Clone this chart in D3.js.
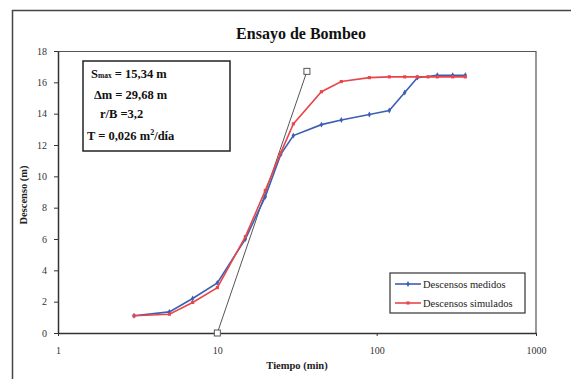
<!DOCTYPE html>
<html>
<head>
<meta charset="utf-8">
<script src="https://cdnjs.cloudflare.com/ajax/libs/d3/7.8.5/d3.min.js"></script>
<style>
  body { margin: 0; background: #fff; }
  text { font-family: "Liberation Serif", "DejaVu Serif", serif; }
</style>
</head>
<body>
<div id="chart"></div>
<script>
  // data
  var timeMedidos = [3, 5, 7, 10, 15, 20, 25, 30, 45, 60, 90, 120, 150, 180, 240, 300, 360];
  var descMedidos = [1.1, 1.35, 2.2, 3.2, 6.0, 8.7, 11.4, 12.6, 13.3, 13.6, 13.95, 14.2, 15.35, 16.3, 16.45, 16.45, 16.45];

  var timeSimulados = [3, 5, 7, 10, 15, 20, 25, 30, 45, 60, 90, 120, 150, 180, 210, 240, 300, 360];
  var descSimulados = [1.1, 1.2, 1.95, 2.9, 6.15, 9.1, 11.5, 13.35, 15.4, 16.05, 16.3, 16.35, 16.35, 16.35, 16.35, 16.35, 16.35, 16.35];

  // straight line of the Jacob fit
  var timeRecta = [10, 36.5];
  var descRecta = [0, 16.7];

  var xTicks = [1, 10, 100, 1000];
  var yTicks = [0, 2, 4, 6, 8, 10, 12, 14, 16, 18];
  var seriesNames = ["Descensos medidos", "Descensos simulados"];
  var seriesColors = ["#3b5fb5", "#e8464b"];

  var svgWidth = 571;
  var svgHeight = 379;

  var margin = { top: 51, bottom: 46, right: 35, left: 58 };
  var width = svgWidth - margin.left - margin.right;
  var height = svgHeight - margin.top - margin.bottom;

  var svg = d3.select("#chart")
    .append("svg")
    .attr("width", svgWidth)
    .attr("height", svgHeight);

  // outer chart frame
  svg.append("rect")
    .attr("x", 12.5).attr("y", 10.5)
    .attr("width", 570).attr("height", 380)
    .attr("fill", "none")
    .attr("stroke", "#444")
    .attr("stroke-width", 1.5);

  svg.append("text")
    .attr("x", 301).attr("y", 39)
    .attr("text-anchor", "middle")
    .attr("font-size", "16px")
    .attr("font-weight", "bold")
    .attr("fill", "#111")
    .text("Ensayo de Bombeo");

  var chartGroup = svg.append("g")
    .attr("transform", `translate(${margin.left}, ${margin.top})`);

  var xLogScale = d3.scaleLog().domain([1, 1000]).range([0, width]);
  var yLinearScale = d3.scaleLinear().domain([0, 18]).range([height, 0]);

  // plot area border (top and right)
  chartGroup.append("path")
    .attr("d", `M0,0.5H${width}V${height}`)
    .attr("fill", "none")
    .attr("stroke", "#555")
    .attr("stroke-width", 1.2);

  var xAxis = d3.axisBottom(xLogScale)
    .tickValues(xTicks)
    .tickFormat(d3.format("d"))
    .tickSizeInner(3)
    .tickSizeOuter(0)
    .tickPadding(11);

  var yAxis = d3.axisLeft(yLinearScale)
    .tickValues(yTicks)
    .tickSizeInner(4)
    .tickSizeOuter(0)
    .tickPadding(7);

  var gx = chartGroup.append("g")
    .attr("transform", `translate(0, ${height})`)
    .call(xAxis);

  var gy = chartGroup.append("g")
    .call(yAxis);

  [gx, gy].forEach(function(g) {
    g.select(".domain").attr("stroke", "#333").attr("stroke-width", 1.5);
    g.selectAll(".tick line").attr("stroke", "#333");
    g.selectAll(".tick text")
      .attr("font-family", "Liberation Serif, serif")
      .attr("font-size", "10px")
      .attr("fill", "#333");
  });

  chartGroup.append("text")
    .attr("transform", "rotate(-90)")
    .attr("x", -(195 - margin.top))
    .attr("y", 23 - margin.left)
    .attr("dy", "0.35em")
    .attr("text-anchor", "middle")
    .attr("font-size", "10.5px")
    .attr("font-weight", "bold")
    .attr("fill", "#222")
    .text("Descenso (m)");

  chartGroup.append("text")
    .attr("x", width / 2)
    .attr("y", 369 - margin.top)
    .attr("text-anchor", "middle")
    .attr("font-size", "10.5px")
    .attr("font-weight", "bold")
    .attr("fill", "#222")
    .text("Tiempo (min)");

  // tangent line with hollow square ends
  var recta = timeRecta.map(function(t, i) { return { t: t, s: descRecta[i] }; });
  var lineGen = d3.line()
    .x(d => xLogScale(d.t))
    .y(d => yLinearScale(d.s));

  chartGroup.append("path")
    .datum(recta)
    .attr("d", lineGen)
    .attr("fill", "none")
    .attr("stroke", "#555")
    .attr("stroke-width", 1);

  chartGroup.selectAll("rect.recta")
    .data(recta)
    .enter()
    .append("rect")
    .attr("class", "recta")
    .attr("x", d => xLogScale(d.t) - 3)
    .attr("y", d => yLinearScale(d.s) - 3)
    .attr("width", 6).attr("height", 6)
    .attr("fill", "#fff")
    .attr("stroke", "#555");

  var series = [
    timeMedidos.map(function(t, i) { return { t: t, s: descMedidos[i] }; }),
    timeSimulados.map(function(t, i) { return { t: t, s: descSimulados[i] }; })
  ];

  series.forEach(function(pts, k) {
    chartGroup.append("path")
      .datum(pts)
      .attr("d", lineGen)
      .attr("fill", "none")
      .attr("stroke", seriesColors[k])
      .attr("stroke-width", 1.6);

    chartGroup.selectAll("path.m" + k)
      .data(pts)
      .enter()
      .append("path")
      .attr("class", "m" + k)
      .attr("transform", d => `translate(${xLogScale(d.t)}, ${yLinearScale(d.s)})`)
      .attr("d", d3.symbol().type(k === 0 ? d3.symbolDiamond : d3.symbolSquare).size(10))
      .attr("fill", seriesColors[k]);
  });

  // parameter box
  var box = svg.append("g");
  box.append("rect")
    .attr("x", 83).attr("y", 61)
    .attr("width", 147).attr("height", 90)
    .attr("fill", "#fff")
    .attr("stroke", "#222")
    .attr("stroke-width", 1.5);

  var t1 = box.append("text").attr("x", 91).attr("y", 78)
    .attr("font-size", "12.5px").attr("font-weight", "bold").attr("fill", "#111");
  t1.append("tspan").text("S");
  t1.append("tspan").attr("font-size", "7.5px").text("max");
  t1.append("tspan").text(" = 15,34 m");

  box.append("text").attr("x", 94).attr("y", 99)
    .attr("font-size", "12.5px").attr("font-weight", "bold").attr("fill", "#111")
    .text("Δm = 29,68 m");

  box.append("text").attr("x", 100).attr("y", 118)
    .attr("font-size", "12.5px").attr("font-weight", "bold").attr("fill", "#111")
    .text("r/B =3,2");

  var t4 = box.append("text").attr("x", 87).attr("y", 140)
    .attr("font-size", "12.5px").attr("font-weight", "bold").attr("fill", "#111");
  t4.append("tspan").text("T = 0,026 m");
  t4.append("tspan").attr("font-size", "8px").attr("dy", -5).text("2");
  t4.append("tspan").attr("dy", 5).text("/día");

  // legend
  var legend = svg.append("g");
  legend.append("rect")
    .attr("x", 390).attr("y", 273)
    .attr("width", 135).attr("height", 40)
    .attr("fill", "#fff")
    .attr("stroke", "#333")
    .attr("stroke-width", 1.2);

  seriesNames.forEach(function(name, k) {
    var ly = 284 + k * 19;
    legend.append("line")
      .attr("x1", 395).attr("x2", 421)
      .attr("y1", ly).attr("y2", ly)
      .attr("stroke", seriesColors[k])
      .attr("stroke-width", 1.6);
    legend.append("path")
      .attr("transform", `translate(408, ${ly})`)
      .attr("d", d3.symbol().type(k === 0 ? d3.symbolDiamond : d3.symbolSquare).size(10))
      .attr("fill", seriesColors[k]);
    legend.append("text")
      .attr("x", 423).attr("y", ly)
      .attr("dy", "0.35em")
      .attr("font-size", "10.5px")
      .attr("fill", "#222")
      .text(name);
  });
</script>
</body>
</html>
